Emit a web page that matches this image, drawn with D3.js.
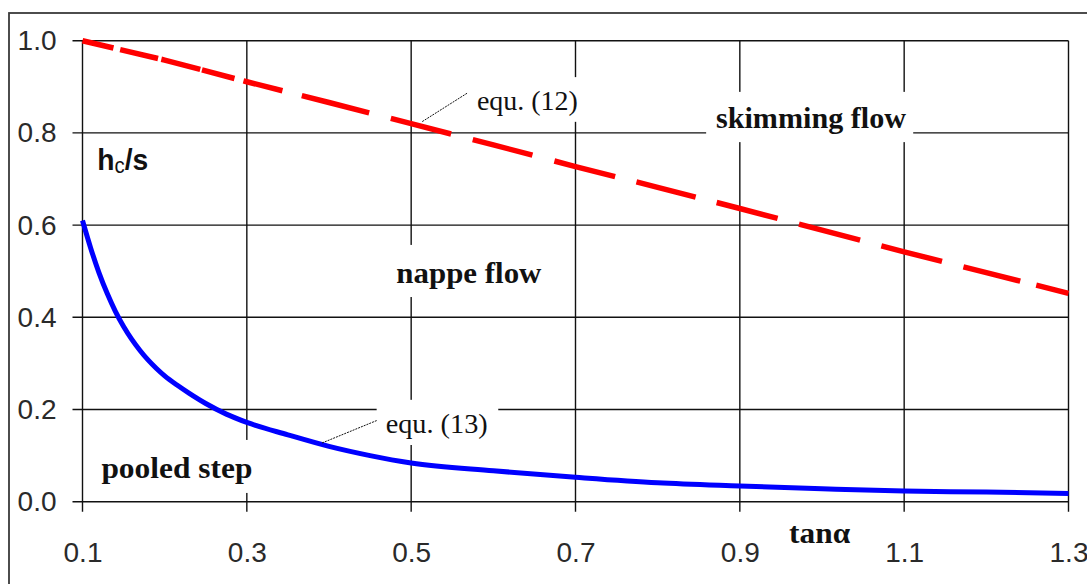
<!DOCTYPE html>
<html>
<head>
<meta charset="utf-8">
<script src="https://cdn.jsdelivr.net/npm/d3@7"></script>
<style>
  body { margin: 0; background: #fff; }
  svg { display: block; }
</style>
</head>
<body>
<script>
// data
var xTicks = [0.1, 0.3, 0.5, 0.7, 0.9, 1.1, 1.3];
var yTicks = [0.0, 0.2, 0.4, 0.6, 0.8, 1.0];

// equ. (12) - skimming flow onset
var skimX = [0.1, 0.2, 0.3, 0.4, 0.5, 0.6, 0.7, 0.8, 0.9, 1.0, 1.1, 1.2, 1.3];
var skimY = [1.0, 0.958, 0.911, 0.866, 0.820, 0.774, 0.727, 0.682, 0.636, 0.589, 0.542, 0.497, 0.452];

// equ. (13) - nappe flow limit
var nappeX = [0.1, 0.11, 0.12, 0.13, 0.14, 0.15, 0.16, 0.17, 0.18, 0.19, 0.2, 0.215, 0.23, 0.25, 0.275, 0.3, 0.35, 0.4, 0.45, 0.5, 0.6, 0.7, 0.8, 0.9, 1.0, 1.1, 1.2, 1.3];
var nappeY = [0.61, 0.55, 0.497, 0.452, 0.413, 0.38, 0.352, 0.328, 0.307, 0.289, 0.273, 0.253, 0.235, 0.213, 0.19, 0.172, 0.145, 0.12, 0.1, 0.084, 0.067, 0.053, 0.041, 0.034, 0.028, 0.023, 0.021, 0.018];

var W = 1087, H = 584;
var svg = d3.select("body").append("svg").attr("width", W).attr("height", H);

// outer frame (runs off the right and bottom of the picture)
svg.append("rect")
  .attr("x", 9).attr("y", 13)
  .attr("width", 1100).attr("height", 600)
  .attr("fill", "none")
  .attr("stroke", "#3a3a3a")
  .attr("stroke-width", 1.8);

var x = d3.scaleLinear().domain([0.1, 1.3]).range([82.5, 1068.5]);
var y = d3.scaleLinear().domain([0, 1]).range([501.7, 40.7]);

// gridlines
var grid = svg.append("g");
grid.selectAll(".hg").data(yTicks).enter().append("line")
  .attr("x1", x(0.1) - 10).attr("x2", x(1.3))
  .attr("y1", function (d) { return y(d); })
  .attr("y2", function (d) { return y(d); })
  .attr("stroke", "#111").attr("stroke-width", 1.4);
grid.selectAll(".vg").data(xTicks).enter().append("line")
  .attr("x1", function (d) { return x(d); })
  .attr("x2", function (d) { return x(d); })
  .attr("y1", y(1)).attr("y2", y(0) + 10)
  .attr("stroke", "#111").attr("stroke-width", 1.4);

// tick labels through the axis generators
var yAxis = d3.axisLeft(y).tickValues(yTicks).tickFormat(d3.format(".1f"))
  .tickSize(0).tickPadding(26);
var yg = svg.append("g").attr("transform", "translate(" + x(0.1) + ",0)").call(yAxis);
yg.select(".domain").remove();
yg.selectAll(".tick text")
  .attr("font-family", "Liberation Sans, Arial, sans-serif")
  .attr("font-size", 28).attr("fill", "#2a2a2a");

var xAxis = d3.axisBottom(x).tickValues(xTicks).tickFormat(d3.format(".1f"))
  .tickSize(0).tickPadding(40);
var xg = svg.append("g").attr("transform", "translate(0," + y(0) + ")").call(xAxis);
xg.select(".domain").remove();
xg.selectAll(".tick text")
  .attr("font-family", "Liberation Sans, Arial, sans-serif")
  .attr("font-size", 28).attr("fill", "#2a2a2a");

// white boxes behind the labels
function box(x0, x1, y0, y1) {
  svg.append("rect")
    .attr("x", x(x0)).attr("y", y(y0))
    .attr("width", x(x1) - x(x0)).attr("height", y(y1) - y(y0))
    .attr("fill", "#fff");
}
box(0.859, 1.111, 0.889, 0.780);   // skimming flow
box(0.471, 0.670, 0.557, 0.444);   // nappe flow
box(0.112, 0.320, 0.134, 0.019);   // pooled step
box(0.568, 0.716, 0.921, 0.824);   // equ. (12)
box(0.458, 0.606, 0.221, 0.123);   // equ. (13)

// curves
var skimLine = d3.line()
  .x(function (d, i) { return x(skimX[i]); })
  .y(function (d) { return y(d); });

svg.append("path")
  .datum(skimY)
  .attr("d", skimLine)
  .attr("fill", "none")
  .attr("stroke", "#ff0000")
  .attr("stroke-width", 5.5)
  .attr("stroke-dasharray", "31.8,6.9,38.9,3.4,40.2,1.8,33.6,9.3,40.2,20,69.5,22.4,62.2,22.4,61.7,22.7,62.7,22,61.1,21.7,63,22.1,63.2,22,62.6,22.1,58.6,16.5,60,0");

var nappeLine = d3.line()
  .x(function (d, i) { return x(nappeX[i]); })
  .y(function (d) { return y(d); })
  .curve(d3.curveMonotoneX);

svg.append("path")
  .datum(nappeY)
  .attr("d", nappeLine)
  .attr("fill", "none")
  .attr("stroke", "#0000ff")
  .attr("stroke-width", 5);

// leader lines
function leader(xa, ya, xb, yb) {
  svg.append("line")
    .attr("x1", x(xa)).attr("y1", y(ya))
    .attr("x2", x(xb)).attr("y2", y(yb))
    .attr("stroke", "#111").attr("stroke-width", 1)
    .attr("stroke-dasharray", "2,1");
}
leader(0.568, 0.886, 0.513, 0.824);
leader(0.458, 0.176, 0.391, 0.127);

// labels
function label(txt, xv, yv, len, size, weight) {
  return svg.append("text")
    .attr("x", x(xv)).attr("y", y(yv))
    .attr("font-family", "Liberation Serif, 'Times New Roman', serif")
    .attr("font-size", size)
    .attr("font-weight", weight)
    .attr("fill", "#111")
    .attr("textLength", len)
    .attr("lengthAdjust", "spacingAndGlyphs")
    .text(txt);
}
label("skimming flow", 0.871, 0.810, 190, 30, "bold");
label("nappe flow", 0.482, 0.474, 145, 30, "bold");
label("pooled step", 0.123, 0.051, 151, 30, "bold");
label("tan\u03b1", 0.960, -0.090, 61, 30, "bold");
label("equ. (12)", 0.580, 0.850, 101, 27, "normal");
label("equ. (13)", 0.469, 0.148, 102, 27, "normal");

// h_c/s axis title
var ht = svg.append("text")
  .attr("transform", "translate(" + x(0.118) + "," + y(0.720) + ") scale(1,1.2)")
  .attr("font-family", "Liberation Sans, Arial, sans-serif")
  .attr("font-size", 25)
  .attr("font-weight", "bold")
  .attr("fill", "#111")
  .attr("textLength", 51)
  .attr("lengthAdjust", "spacingAndGlyphs");
ht.append("tspan").text("h");
ht.append("tspan").attr("font-size", 18).attr("font-weight", "normal")
  .attr("dy", 3).text("c");
ht.append("tspan").attr("dy", -3).text("/s");
</script>
</body>
</html>
